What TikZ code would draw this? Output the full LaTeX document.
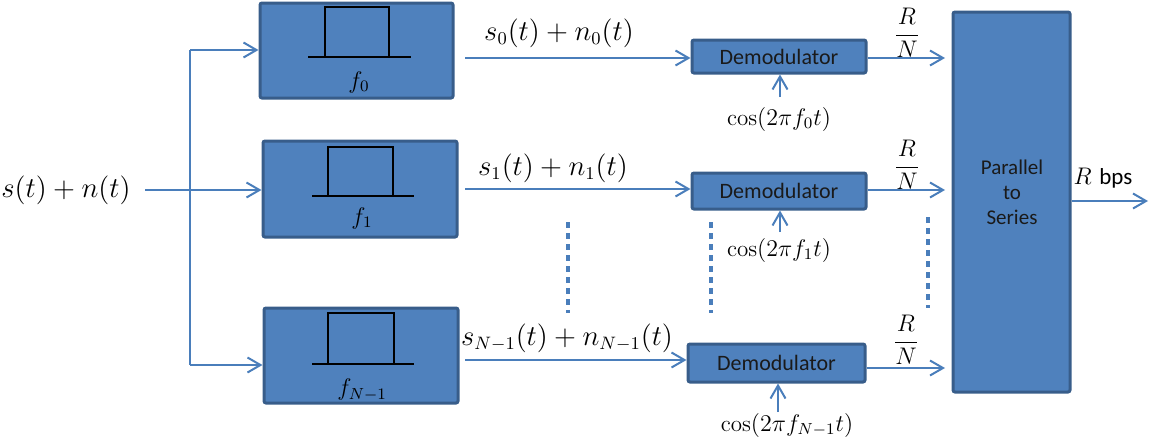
\documentclass[tikz,border=0pt]{standalone}
\usepackage{fontspec}
\newfontfamily\calibri{Carlito}
\usetikzlibrary{arrows.meta}
\definecolor{boxfill}{HTML}{4F81BD}
\definecolor{boxline}{HTML}{385D8A}
\definecolor{wire}{HTML}{4A7EBB}
\definecolor{ink}{HTML}{1A1A1A}
\begin{document}
\begin{tikzpicture}[x=0.5pt,y=-0.5pt,
  blk/.style={draw=boxline, fill=boxfill, line width=1.5pt, rounded corners=1pt, inner sep=0pt},
  arr/.style={draw=wire, line width=1pt, -{Straight Barb[length=6.5pt,width=7.5pt]}},
  wireln/.style={draw=wire, line width=1pt},
  dsh/.style={draw=wire, line width=1.7pt, dash pattern=on 3pt off 2.5pt},
  filt/.style={draw=black, line width=0.9pt},
  mlab/.style={font=\fontsize{13.5}{16}\selectfont, inner sep=0pt},
  slab/.style={font=\fontsize{11.5}{13.5}\selectfont, inner sep=0pt},
  tlab/.style={font=\calibri\fontsize{11}{13}\selectfont, inner sep=0pt, align=center, text=ink},
]
\useasboundingbox (0,0) rectangle (1150,439);

% filter boxes
\node[blk, minimum width=96.5pt, minimum height=47.5pt] (F0) at (356.5,50.5) {};
\node[blk, minimum width=97pt, minimum height=48pt] (F1) at (360,189) {};
\node[blk, minimum width=97pt, minimum height=47.5pt] (FN) at (361,355.5) {};

% filter symbols
\draw[filt] (308,57) -- (411,57);
\draw[filt] (325,57) -- (325,7) -- (389,7) -- (389,57);
\draw[filt] (312,196) -- (414,196);
\draw[filt] (328,196) -- (328,147) -- (393,147) -- (393,196);
\draw[filt] (312,364) -- (414,364);
\draw[filt] (328,364) -- (328,313) -- (394,313) -- (394,364);

\node[slab] (lf0) at (359,82) {$f_0$};
\node[slab] (lf1) at (362,218) {$f_1$};
\node[slab] (lfN) at (362,390) {$f_{N-1}$};

% demodulators
\node[blk, tlab, minimum width=87pt, minimum height=16.5pt] (D0) at (779,56.5) {Demodulator};
\node[blk, tlab, minimum width=87pt, minimum height=18pt] (D1) at (779,191) {Demodulator};
\node[blk, tlab, minimum width=88.5pt, minimum height=19pt] (DN) at (776.5,363) {Demodulator};

% parallel to series
\node[blk, minimum width=58.5pt, minimum height=190pt] (PS) at (1011.5,202) {};
\node[tlab, font=\calibri\fontsize{10.5}{12.5}\selectfont] (PST) at (1012,192) {Parallel\\to\\Series};

% input
\node[mlab] (IN) at (66,190) {$s(t)+n(t)$};
\coordinate (bi) at (145,190);
\coordinate (bt) at (190,50);
\coordinate (bb) at (190,365);
\draw[arr] (bi) -- (bi -| F1.west);
\draw[wireln] (bt) -- (bb);
\draw[arr] (bt) -- (bt -| F0.west);
\draw[arr] (bb) -- (bb -| FN.west);

% filter -> demod
\coordinate (o0) at (465,58);
\coordinate (o1) at (465,189);
\coordinate (oN) at (465,360);
\draw[arr] (o0) -- (o0 -| D0.west);
\draw[arr] (o1) -- (o1 -| D1.west);
\draw[arr] (oN) -- (oN -| DN.west);
\node[mlab] (l0) at (559,33) {$s_0(t)+n_0(t)$};
\node[mlab] (l1) at (553,168) {$s_1(t)+n_1(t)$};
\node[mlab] (lN) at (567,338) {$s_{N-1}(t)+n_{N-1}(t)$};

% demod -> P/S
\coordinate (p0) at (945,58);
\coordinate (p1) at (945,190);
\coordinate (pN) at (945,368);
\draw[arr] (D0.east |- p0) -- (p0);
\draw[arr] (D1.east |- p1) -- (p1);
\draw[arr] (DN.east |- pN) -- (pN);
\node[slab] (r0) at (907,33) {$\displaystyle\frac{R}{N}$};
\node[slab] (r1) at (907,165) {$\displaystyle\frac{R}{N}$};
\node[slab] (rN) at (906,340) {$\displaystyle\frac{R}{N}$};

% carriers
\coordinate (c0) at (780,97);
\coordinate (c1) at (780,232);
\coordinate (cN) at (778,412);
\draw[arr] (c0) -- (c0 |- D0.south);
\draw[arr] (c1) -- (c1 |- D1.south);
\draw[arr] (cN) -- (cN |- DN.south);
\node[slab] (k0) at (779,119) {$\cos(2\pi f_0 t)$};
\node[slab] (k1) at (779,250) {$\cos(2\pi f_1 t)$};
\node[slab] (kN) at (787,425) {$\cos(2\pi f_{N-1} t)$};

% dashed ellipsis lines
\draw[dsh] (568,222) -- (568,313);
\draw[dsh] (711,222) -- (711,313);
\draw[dsh] (928,217) -- (928,308);

% output
\coordinate (out) at (1148,201);
\draw[arr] (PS.east |- out) -- (out);
\node[slab] (RB) at (1103,178) {$R$ {\calibri bps}};
\end{tikzpicture}
\end{document}
